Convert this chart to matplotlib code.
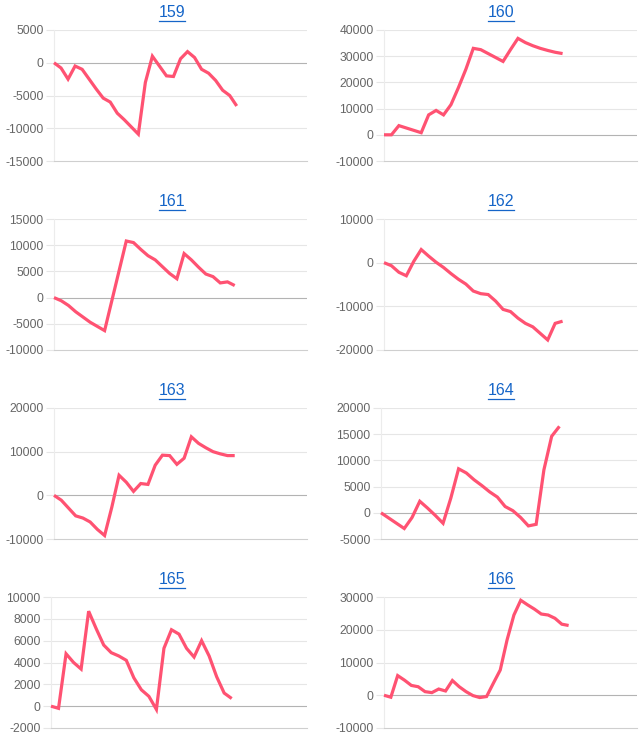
import matplotlib
matplotlib.use('Agg')
import matplotlib.pyplot as plt
from matplotlib.lines import Line2D

titles = ['159', '160', '161', '162', '163', '164', '165', '166']

s159 = [0, -800, -2500, -500, -1000, -2500, -4000, -5400, -6000, -7700, -8700, -9800,
        -10900, -3000, 1000, -500, -2000, -2100, 600, 1700, 800, -1000, -1600, -2700,
        -4200, -5000, -6600]
s160 = [0, 0, 3500, 2600, 1700, 800, 7600, 9300, 7600, 11500, 18000, 25000, 33000,
        32500, 31000, 29500, 28000, 32500, 36800, 35200, 34000, 33000, 32200, 31500, 31000]
s161 = [0, -600, -1500, -2700, -3700, -4700, -5500, -6300, -600, 5100, 10800, 10500,
        9200, 8000, 7200, 5900, 4600, 3600, 8400, 7200, 5800, 4500, 4000, 2800, 3000, 2300]
s162 = [0, -700, -2200, -3000, 300, 3000, 1500, 100, -1100, -2500, -3800, -4900, -6500,
        -7100, -7300, -8800, -10700, -11200, -12700, -13900, -14700, -16200, -17700,
        -13900, -13400]
s163 = [0, -1100, -2900, -4700, -5200, -6100, -7800, -9200, -2700, 4600, 3000, 900, 2700,
        2500, 6900, 9200, 9100, 7100, 8500, 13400, 11900, 10900, 10000, 9500, 9100, 9100]
s164 = [0, -1000, -2000, -3000, -900, 2200, 900, -500, -2000, 2800, 8400, 7600, 6300,
        5200, 4000, 3000, 1200, 400, -900, -2500, -2200, 8200, 14600, 16500]
s165 = [0, -200, 4800, 4000, 3400, 8700, 7100, 5600, 4900, 4600, 4200, 2600, 1500, 900,
        -300, 5300, 7000, 6600, 5300, 4500, 6000, 4600, 2700, 1200, 700]
s166 = [0, -600, 6000, 4600, 3000, 2600, 1100, 800, 1900, 1300, 4500, 2600, 1100, -100,
        -700, -400, 3700, 7700, 16900, 24500, 29000, 27600, 26300, 24800, 24500, 23500,
        21700, 21300]

series = [s159, s160, s161, s162, s163, s164, s165, s166]

y_ticks = [
    [-15000, -10000, -5000, 0, 5000],
    [-10000, 0, 10000, 20000, 30000, 40000],
    [-10000, -5000, 0, 5000, 10000, 15000],
    [-20000, -10000, 0, 10000],
    [-10000, 0, 10000, 20000],
    [-5000, 0, 5000, 10000, 15000, 20000],
    [-2000, 0, 2000, 4000, 6000, 8000, 10000],
    [-10000, 0, 10000, 20000, 30000],
]

W, H = 644, 739
DPI = 100
fig = plt.figure(figsize=(W / DPI, H / DPI), dpi=DPI)
fig.patch.set_facecolor('white')

LINE_COLOR = '#ff5272'
GRID = '#e6e6e6'
ZERO = '#b3b3b3'
BOTTOM = '#cfcfcf'
TICKC = '#666666'
TITLE_C = '#1565c8'

lefts = [54, 384, 54, 384, 54, 381, 51, 384]
rights = [307, 637]
title_cx = [172, 501]
font = 'Liberation Sans'

title_texts = []
for i, (ttl, vals, yt) in enumerate(zip(titles, series, y_ticks)):
    r, c = divmod(i, 2)
    top = 30 + 189 * r
    bot = 161 + 189 * r
    left = lefts[i]
    right = rights[c]
    ax = fig.add_axes([left / W, 1 - bot / H, (right - left) / W, (bot - top) / H])
    n = len(vals)
    x = list(range(n))
    ax.set_xlim(0, n + 9)
    ax.set_ylim(yt[0], yt[-1])
    for v in yt[1:]:
        ax.axhline(v, color=ZERO if v == 0 else GRID, lw=0.8, zorder=1)
    ax.plot(x, vals, color=LINE_COLOR, lw=2.3, solid_joinstyle='miter',
            solid_capstyle='butt', clip_on=False, zorder=3)
    ax.set_xticks([])
    ax.set_yticks(yt)
    ax.set_yticklabels([str(v) for v in yt], fontfamily=font, fontsize=8.7, color=TICKC)
    ax.tick_params(axis='y', length=6, width=0.8, color=GRID, pad=1.5)
    for tk, v in zip(ax.yaxis.get_major_ticks(), yt):
        if v == 0:
            tk.tick1line.set_color(ZERO)
    for s in ['top', 'right']:
        ax.spines[s].set_visible(False)
    ax.spines['left'].set_color('#ececec')
    ax.spines['left'].set_linewidth(0.8)
    ax.spines['bottom'].set_color(BOTTOM)
    ax.spines['bottom'].set_linewidth(0.8)
    ax.set_facecolor('none')

    t = fig.text(title_cx[c] / W, 1 - (17 + 189 * r) / H, ttl, ha='center', va='baseline',
                 fontfamily=font, fontsize=11.5, color=TITLE_C)
    title_texts.append(t)

fig.canvas.draw()
for t in title_texts:
    bb = t.get_window_extent()
    y = bb.y0 - 1.0
    fig.add_artist(Line2D([bb.x0 / W, bb.x1 / W], [y / H, y / H], color=TITLE_C,
                          lw=0.9, transform=fig.transFigure))

fig.savefig('out.png', dpi=DPI, facecolor='white')
